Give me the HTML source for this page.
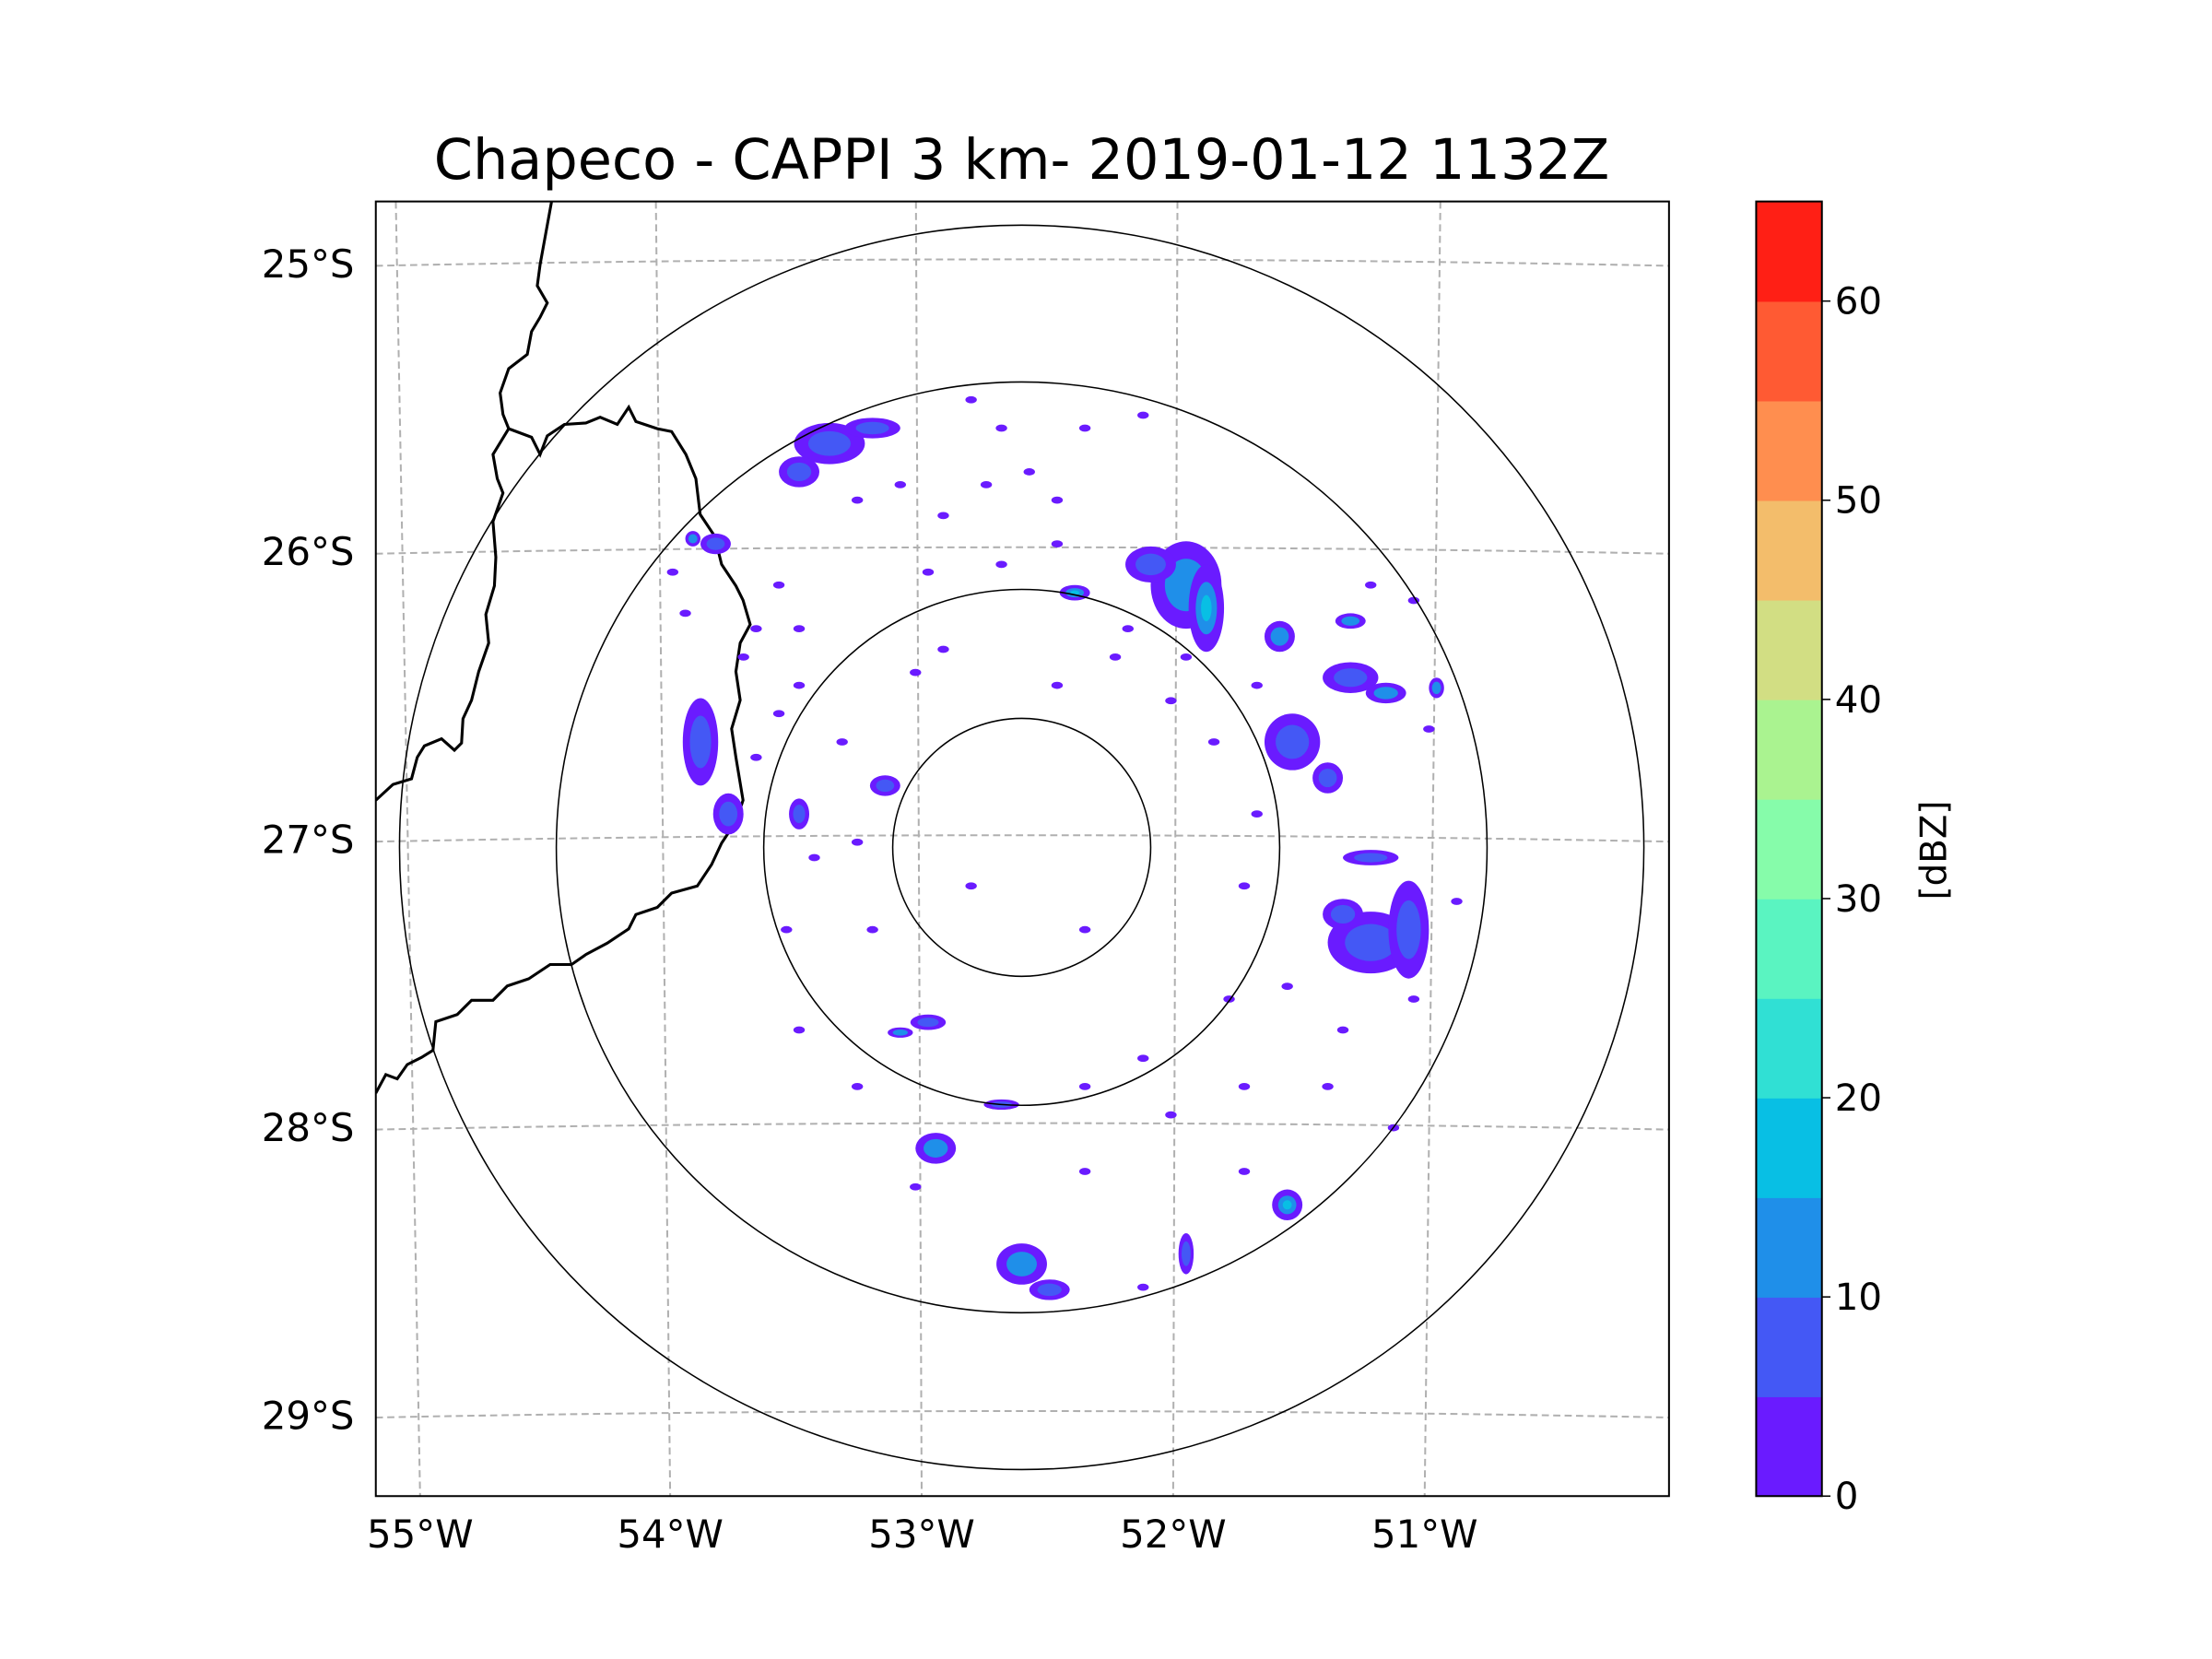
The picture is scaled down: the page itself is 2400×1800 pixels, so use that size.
<!DOCTYPE html>
<html><head><meta charset="utf-8"><style>
html,body{margin:0;padding:0;background:#fff}
svg{display:block}
text{font-family:"DejaVu Sans","Liberation Sans",sans-serif;fill:#000}
</style></head><body>
<svg id="chart" width="2400" height="1800" viewBox="0 0 1548 1161" xmlns="http://www.w3.org/2000/svg">
<defs><clipPath id="pc"><rect x="263" y="141" width="905" height="906"/></clipPath></defs>
<text x="715" y="125" font-size="39" text-anchor="middle">Chapeco - CAPPI 3 km- 2019-01-12 1132Z</text>
<g id="grid" clip-path="url(#pc)"></g>
<g id="borders" clip-path="url(#pc)" fill="none" stroke="#000" stroke-width="2">
<polyline points="386,141 378,185 376,200 383,212 378,222 372,232 369,248 356,258 350,275 352,290 356,300 345,318 348,335 352,345 345,365 347,390 346,410 340,430 342,450 335,470 330,490 324,503 323,520 318,525 309,517 297,522 292,530 288,545 275,549 263,560"/>
<polyline points="356,300 372,306 378,318 383,305 395,297 410,296 420,292 432,297 440,285 445,295 460,300 470,302 480,318 487,335 490,360 500,375 505,395 515,410 520,420 525,437 518,450 515,470 518,490 512,510 515,530 520,560 515,575 505,590 498,605 488,620 470,625 460,635 445,640 440,650 425,660 410,668 400,675 385,675 370,685 355,690 345,700 330,700 320,710 305,715 303,735 295,740 285,745 278,755 270,752 263,765"/>
</g>
<g id="echoes" clip-path="url(#pc)"></g>
<g id="rings" fill="none" stroke="#000" stroke-width="1"></g>
<rect x="263" y="141" width="905" height="906" fill="none" stroke="#000" stroke-width="1.3"/>
<g id="ticks"></g>
<g id="cbar"></g>
<text transform="translate(1362,595) rotate(-90)" font-size="25" text-anchor="middle">[dBZ]</text>
</svg>
<script>
const NS="http://www.w3.org/2000/svg";
const latTicks=[-25,-26,-27,-28,-29];
const lonTicks=[-55,-54,-53,-52,-51];
const ringRadiiKm=[51,102,184,246];
const cbarLevels=[0,5,10,15,20,25,30,35,40,45,50,55,60,65];
const cbarColors=["#6a1bff","#4458f5","#1f8fe9","#08bfe4","#30e0d4","#5af4c1","#86fcaa","#aaf390","#d2de83","#f3bd6b","#ff8e4f","#ff5a33","#ff1f15"];
const cbarTicks=[0,10,20,30,40,50,60];
// big echo cells: east km, north km, x-radius km, y-radius km, peak dBZ
const cellE=[0,11,-34,105,138,153,127,65,73,51,102,130,144,107,121,-76,-88,-59,-37,-48,130,164,-127,-121,-130,65,21,-54,-8,-88,-116,138];
const cellN=[-162,-172,-117,-139,-37,-32,-26,102,93,110,82,66,60,41,27,157,146,163,-68,-72,88,62,41,118,120,-158,99,24,-100,13,13,-4];
const cellRx=[10,8,8,6,17,8,8,14,7,10,6,11,8,11,6,14,8,11,7,5,6,3,7,6,3,3,6,6,7,4,6,11];
const cellRy=[8,4,6,6,12,19,6,17,17,7,6,6,4,11,6,8,6,4,3,2,3,4,17,4,3,8,3,4,2,6,8,3];
const cellDbz=[12,8,12,17,8,6,5,12,16,8,12,6,12,6,5,8,6,5,5,12,12,12,5,5,12,5,17,5,5,5,5,5];
// small speckles: east km, north km
const speckE=[-96,-105,-88,-65,-48,-31,-14,3,14,-37,-8,-88,-96,-71,-65,-82,-110,-133,-138,-31,14,37,59,76,93,88,82,48,25,-65,-88,-42,25,59,88,105,127,155,172,121,147,88,48,-42,-20,25,-59,-8,25,48,-20,14,-105,-93,161,155,138,93,65,42];
const speckN=[102,85,85,135,141,129,141,146,135,107,110,63,52,41,2,-4,74,91,107,77,63,74,57,41,13,-15,-59,-82,-93,-93,-71,-132,-126,-104,-93,-54,-71,-59,-21,-93,-109,-126,-171,68,-15,-32,-32,163,163,168,174,118,35,-32,46,96,102,63,74,85];

const cx=715, cy=593, kx=1.77, ky=1.8;
const X=e=>cx+e*kx, Y=n=>cy-n*ky;
const lonX=(lon,y)=>{const t=(y-141)/906;const top=[277,459,641,824,1008],bot=[294,469,645,821,997];const i=lonTicks.indexOf(lon);return top[i]+(bot[i]-top[i])*t;};
const latY=lat=>185+(-25-lat)*201.5;
const cv=v=>{let i=Math.floor(v/5);return cbarColors[Math.max(0,Math.min(12,i))];};
const cbY=v=>1047-(v/65)*906;

const grid=document.getElementById('grid');
latTicks.forEach(lat=>{const y=latY(lat);const p=document.createElementNS(NS,'path');
p.setAttribute('d',`M263,${y+1} Q715,${y-8} 1168,${y+1}`);p.setAttribute('fill','none');p.setAttribute('stroke','#b0b0b0');p.setAttribute('stroke-width','1.3');p.setAttribute('stroke-dasharray','5,3');


grid.appendChild(p);});
lonTicks.forEach(lon=>{const l=document.createElementNS(NS,'line');
l.setAttribute('x1',lonX(lon,141));l.setAttribute('y1',141);l.setAttribute('x2',lonX(lon,1047));l.setAttribute('y2',1047);l.setAttribute('stroke','#b0b0b0');l.setAttribute('stroke-width','1.3');l.setAttribute('stroke-dasharray','5,3');


grid.appendChild(l);});

const ech=document.getElementById('echoes');
function ell(x,y,rx,ry,c,name){const e=document.createElementNS(NS,'ellipse');e.setAttribute('cx',x);e.setAttribute('cy',y);e.setAttribute('rx',rx);e.setAttribute('ry',ry);e.setAttribute('fill',c);


ech.appendChild(e);}
cellE.forEach((e,i)=>{const x=X(e),y=Y(cellN[i]);
ell(x,y,cellRx[i]*kx,cellRy[i]*ky,cbarColors[0],'echo-cell');
if(cellDbz[i]>=5)ell(x,y,cellRx[i]*kx*0.6,cellRy[i]*ky*0.6,cv(Math.min(cellDbz[i],10)),'echo-core');
if(cellDbz[i]>=15)ell(x,y,cellRx[i]*kx*0.3,cellRy[i]*ky*0.3,cv(cellDbz[i]),'echo-core-strong');});
speckE.forEach((e,i)=>{ell(X(e),Y(speckN[i]),4,2.5,cbarColors[0],'echo-speckle');});

const rings=document.getElementById('rings');
ringRadiiKm.forEach(r=>{const c=document.createElementNS(NS,'ellipse');c.setAttribute('cx',cx);c.setAttribute('cy',cy);c.setAttribute('rx',r*kx);c.setAttribute('ry',r*kx);


rings.appendChild(c);});

const tk=document.getElementById('ticks');
latTicks.forEach(lat=>{const t=document.createElementNS(NS,'text');t.setAttribute('x',248);t.setAttribute('y',latY(lat)+9);t.setAttribute('font-size','27');t.setAttribute('text-anchor','end');t.textContent=Math.abs(lat)+'°S';


tk.appendChild(t);});
lonTicks.forEach(lon=>{const t=document.createElementNS(NS,'text');t.setAttribute('x',lonX(lon,1047));t.setAttribute('y',1083);t.setAttribute('font-size','27');t.setAttribute('text-anchor','middle');t.textContent=Math.abs(lon)+'°W';


tk.appendChild(t);});

const cb=document.getElementById('cbar');
cbarColors.forEach((c,i)=>{const r=document.createElementNS(NS,'rect');const y1=cbY(cbarLevels[i+1]),y0=cbY(cbarLevels[i]);
r.setAttribute('x',1229);r.setAttribute('y',y1);r.setAttribute('width',46);r.setAttribute('height',y0-y1+0.5);r.setAttribute('fill',c);


cb.appendChild(r);});
const fr=document.createElementNS(NS,'rect');fr.setAttribute('x',1229);fr.setAttribute('y',141);fr.setAttribute('width',46);fr.setAttribute('height',906);fr.setAttribute('fill','none');fr.setAttribute('stroke','#000');fr.setAttribute('stroke-width','1.3');


cb.appendChild(fr);
cbarTicks.forEach(v=>{const y=cbY(v);const l=document.createElementNS(NS,'line');l.setAttribute('x1',1275);l.setAttribute('x2',1281);l.setAttribute('y1',y);l.setAttribute('y2',y);l.setAttribute('stroke','#000');


cb.appendChild(l);
const t=document.createElementNS(NS,'text');t.setAttribute('x',1284);t.setAttribute('y',y+9);t.setAttribute('font-size','26');t.textContent=v;


cb.appendChild(t);});
</script>
</body></html>
